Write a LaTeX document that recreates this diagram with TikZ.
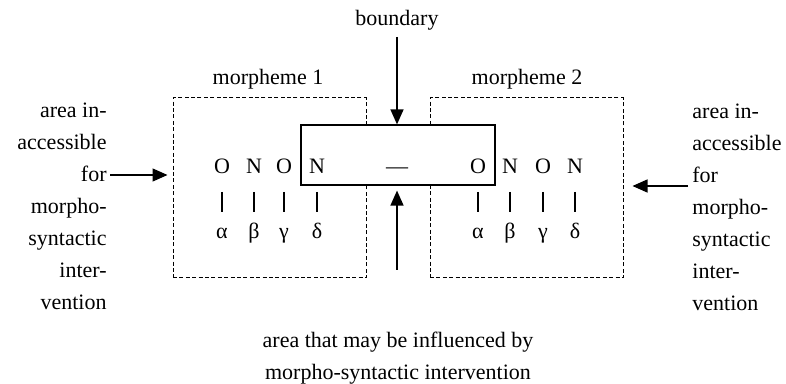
\documentclass[tikz,border=0pt]{standalone}
\usepackage{fontspec}
\setmainfont{Liberation Serif}
\usetikzlibrary{arrows.meta}
\begin{document}
\begin{tikzpicture}[x=0.5pt,y=-0.5pt,
  txt/.style={font=\fontsize{11}{16}\selectfont,inner sep=0pt},
  seg/.style={font=\fontsize{11}{13}\selectfont,inner sep=0pt,anchor=base},
  morph/.style={draw,line width=0.5pt,dash pattern=on 2pt off 1.2pt,minimum width=96.5pt,minimum height=90pt,inner sep=0pt},
  arr/.style={-{Triangle[length=7.5pt,width=6.5pt]},line width=0.7pt}]
\useasboundingbox (0,0) rectangle (786,384);

\node[morph] (m1) at (269.5,188) {};
\node[morph] (m2) at (526.5,188) {};
\node[txt] (m1lab) at (268,79) {morpheme 1};
\node[txt] (m2lab) at (527,79) {morpheme 2};
\node[draw,fill=white,line width=0.6pt,minimum width=97pt,minimum height=30pt,inner sep=0pt] (bnd) at (398,155) {};

\node[seg] (l1) at (222,174) {O};
\node[seg] (l2) at (254,174) {N};
\node[seg] (l3) at (284,174) {O};
\node[seg] (l4) at (317,174) {N};
\node[seg] (dash) at (397,174) {—};
\node[seg] (r1) at (478,174) {O};
\node[seg] (r2) at (510,174) {N};
\node[seg] (r3) at (543,174) {O};
\node[seg] (r4) at (575,174) {N};

\foreach \g [count=\i] in {α,β,γ,δ} {
  \node[seg] (lg\i) at (l\i |- 0,239) {\g};
  \node[seg] (rg\i) at (r\i |- 0,239) {\g};
  \draw[line width=0.6pt] (l\i |- 0,192) -- (l\i |- 0,212);
  \draw[line width=0.6pt] (r\i |- 0,192) -- (r\i |- 0,212);
}

\node[txt] (bdy) at (397,20) {boundary};
\coordinate (btop) at (397,37);
\draw[arr] (btop) -- (btop |- bnd.north);
\coordinate (bbot) at (397,270);
\draw[arr,shorten >=2.5pt] (bbot) -- (bbot |- bnd.south);

\node[txt,align=right,anchor=north east] (lt) at (107,103) {area in-\\accessible\\for\\morpho-\\syntactic\\inter-\\vention};
\coordinate (la) at (110,175);
\draw[arr,shorten >=2.5pt] (la) -- (m1.west |- la);

\node[txt,align=left,anchor=north west] (rt) at (692,104) {area in-\\accessible\\for\\morpho-\\syntactic\\inter-\\vention};
\coordinate (ra) at (688,186);
\draw[arr,shorten >=4.5pt] (ra) -- (m2.east |- ra);

\node[txt,align=center,anchor=north] (infl) at (398,332) {area that may be influenced by\\morpho-syntactic intervention};
\end{tikzpicture}
\end{document}
